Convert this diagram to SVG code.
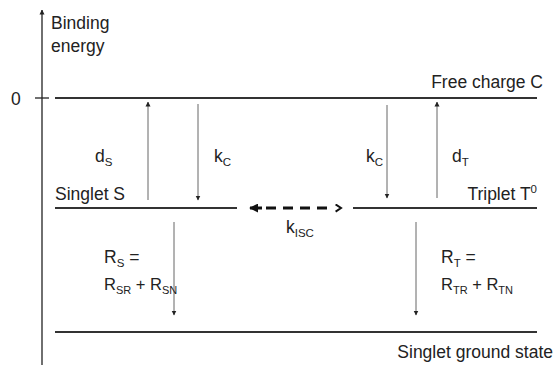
<svg xmlns="http://www.w3.org/2000/svg" width="556" height="365" viewBox="0 0 556 365">
<defs>
<marker id="ah" viewBox="0 0 10 10" refX="9" refY="5" markerWidth="5" markerHeight="7" orient="auto" markerUnits="userSpaceOnUse"><path d="M0,0 L10,5 L0,10 Z" fill="#222"/></marker>
<marker id="ahL" viewBox="0 0 10 10" refX="9" refY="5" markerWidth="9" markerHeight="9" orient="auto" markerUnits="userSpaceOnUse"><path d="M0,0 L10,5 L0,10 Z" fill="#111"/></marker>
<marker id="chev" viewBox="0 0 10 10" refX="8" refY="5" markerWidth="9" markerHeight="9" orient="auto" markerUnits="userSpaceOnUse"><path d="M2,1 L8,5 L2,9" fill="none" stroke="#111" stroke-width="2.2"/></marker>
</defs>
<style>
text{font-family:"Liberation Sans",Arial,sans-serif;font-size:17.5px;fill:#222}
.sub{font-size:11.5px}
.rr{font-size:16.5px}
.rr .sub{font-size:11px}
.lvl{stroke:#333;stroke-width:2}
.arr{stroke:#666;stroke-width:1;marker-end:url(#ah)}
</style>
<rect width="556" height="365" fill="#fff"/>
<g id="axis">
<line x1="42" y1="365" x2="42" y2="10" stroke="#222" stroke-width="1.3" marker-end="url(#ah)"/>
<line x1="35" y1="98" x2="49" y2="98" stroke="#222" stroke-width="1.3"/>
<text x="11" y="105">0</text>
<text x="51" y="29">Binding</text>
<text x="51" y="52">energy</text>
</g>
<g id="free-charge">
<line class="lvl" x1="55" y1="98" x2="537" y2="98"/>
<text x="543" y="88" text-anchor="end">Free charge C</text>
</g>
<g id="singlet">
<line class="lvl" x1="55" y1="208" x2="237" y2="208"/>
<text x="55" y="200">Singlet S</text>
</g>
<g id="triplet">
<line class="lvl" x1="353" y1="208" x2="537" y2="208"/>
<text x="537" y="200" text-anchor="end">Triplet T<tspan class="sub" dy="-7">0</tspan></text>
</g>
<g id="ground">
<line class="lvl" x1="55" y1="332" x2="537" y2="332"/>
<text x="553" y="358" text-anchor="end">Singlet ground state</text>
</g>
<g id="connectors">
<line class="arr" x1="148" y1="200" x2="148" y2="102"/>
<line class="arr" x1="198" y1="104" x2="198" y2="200"/>
<line class="arr" x1="387" y1="105" x2="387" y2="198"/>
<line class="arr" x1="437" y1="198" x2="437" y2="102"/>
<line class="arr" x1="174" y1="222" x2="174" y2="315"/>
<line class="arr" x1="416" y1="222" x2="416" y2="315"/>
<line x1="266" y1="208" x2="332" y2="208" stroke="#111" stroke-width="3" stroke-dasharray="10,7"/>
<line x1="262" y1="208" x2="250" y2="208" stroke="#111" stroke-width="3" marker-end="url(#ahL)"/>
<line x1="330" y1="208" x2="341" y2="208" stroke="none" marker-end="url(#chev)"/>
<text x="95" y="162">d<tspan class="sub" dy="4">S</tspan></text>
<text x="214" y="162">k<tspan class="sub" dy="4">C</tspan></text>
<text x="366" y="162">k<tspan class="sub" dy="4">C</tspan></text>
<text x="452" y="162">d<tspan class="sub" dy="4">T</tspan></text>
<text x="286" y="233">k<tspan class="sub" dy="4">ISC</tspan></text>
<text x="104" y="263">R<tspan class="sub" dy="4">S</tspan><tspan dy="-4"> =</tspan></text>
<text class="rr" x="104" y="290">R<tspan class="sub" dy="4">SR</tspan><tspan dy="-4"> + R</tspan><tspan class="sub" dy="4">SN</tspan></text>
<text x="441" y="263">R<tspan class="sub" dy="4">T</tspan><tspan dy="-4"> =</tspan></text>
<text class="rr" x="441" y="290">R<tspan class="sub" dy="4">TR</tspan><tspan dy="-4"> + R</tspan><tspan class="sub" dy="4">TN</tspan></text>
</g>
</svg>
